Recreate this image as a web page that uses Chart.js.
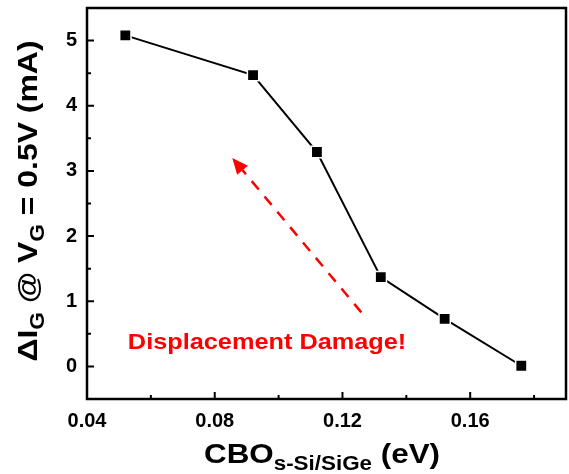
<!DOCTYPE html>
<html>
<head>
<meta charset="utf-8">
<script src="https://cdn.jsdelivr.net/npm/chart.js@4"></script>
<style>
  html, body { margin: 0; padding: 0; background: #fff; }
  #wrap { width: 569px; height: 474px; }
</style>
</head>
<body>
<div id="wrap"><canvas id="chart" width="569" height="474"></canvas></div>
<script>
// Data
const cboValues = [0.052, 0.092, 0.112, 0.132, 0.152, 0.176];
const deltaIg = [5.08, 4.47, 3.29, 1.37, 0.73, 0.01];
const xTicks = [0.04, 0.08, 0.12, 0.16];
const xMinorTicks = [0.06, 0.10, 0.14, 0.18];
const yTicks = [0, 1, 2, 3, 4, 5];
const yMinorTicks = [-0.5, 0.5, 1.5, 2.5, 3.5, 4.5];
// dashed arrow: from [x, y] to [x, y] in data units
const arrowFrom = [0.1259, 0.83];
const arrowTo = [0.0855, 3.20];
const noteAt = [0.0528, 0.27];
const noteText = 'Displacement Damage!';

const FONT = '"Liberation Sans", Arial, sans-serif';

// draw text pieces with subscripts, centred on (0,0) of current transform
function drawRich(ctx, parts, size, subSize, subDrop, stretch) {
  let total = 0;
  parts.forEach(p => {
    ctx.font = 'bold ' + (p.sub ? subSize : size) + 'px ' + FONT;
    p.w = ctx.measureText(p.t).width;
    total += p.w;
  });
  ctx.scale(stretch, 1);
  let x = -total / 2;
  ctx.textAlign = 'left';
  ctx.textBaseline = 'alphabetic';
  parts.forEach(p => {
    ctx.font = 'bold ' + (p.sub ? subSize : size) + 'px ' + FONT;
    ctx.fillText(p.t, x, p.sub ? subDrop : 0);
    x += p.w;
  });
}

const framePlugin = {
  id: 'frame',
  afterDraw(chart) {
    const { ctx, chartArea: a, scales } = chart;
    const xs = scales.x, ys = scales.y;
    ctx.save();
    ctx.strokeStyle = '#000';
    ctx.lineWidth = 2.5;
    ctx.strokeRect(a.left, a.top, a.right - a.left, a.bottom - a.top);

    // inward ticks
    ctx.lineWidth = 2;
    ctx.beginPath();
    xTicks.forEach(v => { const px = xs.getPixelForValue(v); ctx.moveTo(px, a.bottom); ctx.lineTo(px, a.bottom - 7); });
    xMinorTicks.forEach(v => { const px = xs.getPixelForValue(v); ctx.moveTo(px, a.bottom); ctx.lineTo(px, a.bottom - 4); });
    yTicks.forEach(v => { const py = ys.getPixelForValue(v); ctx.moveTo(a.left, py); ctx.lineTo(a.left + 7, py); });
    yMinorTicks.forEach(v => { const py = ys.getPixelForValue(v); ctx.moveTo(a.left, py); ctx.lineTo(a.left + 4, py); });
    ctx.stroke();

    // dashed red arrow
    const x0 = xs.getPixelForValue(arrowFrom[0]), y0 = ys.getPixelForValue(arrowFrom[1]);
    const x1 = xs.getPixelForValue(arrowTo[0]), y1 = ys.getPixelForValue(arrowTo[1]);
    const ang = Math.atan2(y1 - y0, x1 - x0);
    const head = 16;
    const bx = x1 - head * Math.cos(ang), by = y1 - head * Math.sin(ang);
    ctx.strokeStyle = '#ff0000';
    ctx.fillStyle = '#ff0000';
    ctx.lineWidth = 2.5;
    ctx.setLineDash([11, 9]);
    ctx.beginPath();
    ctx.moveTo(x0, y0);
    ctx.lineTo(bx, by);
    ctx.stroke();
    ctx.setLineDash([]);
    ctx.beginPath();
    ctx.moveTo(x1, y1);
    ctx.lineTo(bx + 7 * Math.sin(ang), by - 7 * Math.cos(ang));
    ctx.lineTo(bx - 7 * Math.sin(ang), by + 7 * Math.cos(ang));
    ctx.closePath();
    ctx.fill();

    // note, slightly widened like the original
    ctx.save();
    ctx.translate(xs.getPixelForValue(noteAt[0]), ys.getPixelForValue(noteAt[1]));
    ctx.scale(1.15, 1);
    ctx.font = 'bold 22px ' + FONT;
    ctx.textAlign = 'left';
    ctx.textBaseline = 'alphabetic';
    ctx.fillText(noteText, 0, 0);
    ctx.restore();

    // axis titles
    ctx.fillStyle = '#000';
    ctx.save();
    ctx.translate(322, 463);
    drawRich(ctx, [{ t: 'CBO' }, { t: 's-Si/SiGe', sub: true }, { t: ' (eV)' }], 28, 20, 7, 1.12);
    ctx.restore();

    ctx.save();
    ctx.translate(37, 201);
    ctx.rotate(-Math.PI / 2);
    drawRich(ctx, [{ t: '\u0394I' }, { t: 'G', sub: true }, { t: ' @ V' }, { t: 'G', sub: true }, { t: ' = 0.5V (mA)' }], 28, 20, 7, 1.14);
    ctx.restore();
    ctx.restore();
  }
};

new Chart(document.getElementById('chart'), {
  type: 'line',
  data: {
    datasets: [{
      data: cboValues.map((x, i) => ({ x: x, y: deltaIg[i] })),
      borderColor: '#000',
      borderWidth: 2,
      pointStyle: 'rect',
      pointRadius: 8,
      pointBackgroundColor: '#000',
      pointBorderColor: '#fff',
      pointBorderWidth: 1.5,
      tension: 0
    }]
  },
  options: {
    responsive: false,
    animation: false,
    layout: { autoPadding: false, padding: { left: 0, right: 3, top: 8, bottom: 0 } },
    plugins: { legend: { display: false }, tooltip: { enabled: false } },
    scales: {
      x: {
        type: 'linear',
        min: 0.04,
        max: 0.19,
        afterBuildTicks: s => { s.ticks = xTicks.map(v => ({ value: v })); },
        afterFit: s => { s.height = 75; s.paddingLeft = 0; s.paddingRight = 0; },
        grid: { display: false, drawTicks: false },
        border: { display: false },
        ticks: {
          padding: 10,
          color: '#000',
          font: { family: FONT, size: 20, weight: 'bold' },
          callback: v => v.toFixed(2),
          maxRotation: 0
        }
      },
      y: {
        type: 'linear',
        min: -0.5,
        max: 5.5,
        afterBuildTicks: s => { s.ticks = yTicks.map(v => ({ value: v })); },
        afterFit: s => { s.width = 87; s.paddingTop = 0; s.paddingBottom = 0; },
        grid: { display: false, drawTicks: false },
        border: { display: false },
        ticks: {
          padding: 10,
          color: '#000',
          font: { family: FONT, size: 20, weight: 'bold' },
          callback: v => String(v)
        }
      }
    }
  },
  plugins: [framePlugin]
});
</script>
</body>
</html>
